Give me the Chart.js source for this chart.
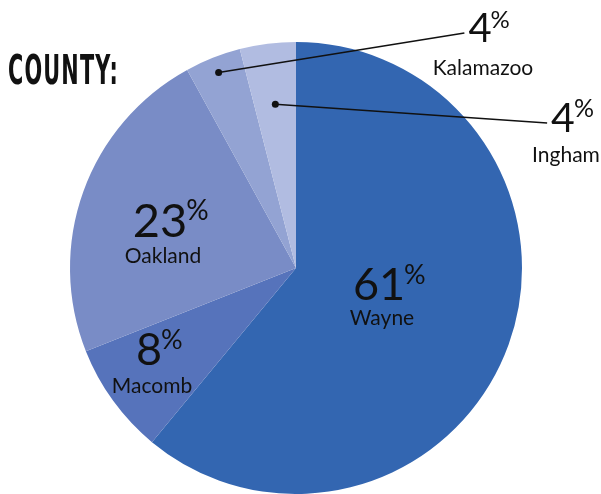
<!DOCTYPE html>
<html>
<head>
<meta charset="utf-8">
<script src="https://cdn.jsdelivr.net/npm/chart.js@4.4.1/dist/chart.umd.min.js"></script>
<style>
  html, body { margin: 0; padding: 0; background: #fff; }
  #wrap { position: relative; width: 601px; height: 494px; }
  #heading {
    position: absolute; left: 8px; top: 47px;
    font: bold 40px "DejaVu Sans Condensed", "Liberation Sans Narrow", sans-serif;
    color: #111; letter-spacing: 2px;
    transform-origin: 0 0; white-space: nowrap;
  }
</style>
</head>
<body>
<div id="wrap">
  <canvas id="countyChart" width="601" height="494"></canvas>
  <div id="heading">COUNTY:</div>
</div>
<script>
const counties = ['Wayne', 'Macomb', 'Oakland', 'Kalamazoo', 'Ingham'];
const shares = [61, 8, 23, 4, 4];
const sliceColors = ['#3366b1', '#5673bb', '#798cc6', '#93a3d3', '#b1bce1'];

// label placement, offsets from the pie centre: [dx, dy of number baseline, gap to name, number size]
const labelSpots = [[86, 32, 25, 45], [-144, 97, 28, 45], [-133, -31, 26, 47], [187, -226, 33, 40], [270, -136, 30, 41]];
// small slices get a leader line starting at this fraction of the radius (0 = none)
const leaderStart = [0, 0, 0, 0.93, 0.73];

const faces = 'Lato, "Open Sans", sans-serif';

const sliceLabels = {
  id: 'sliceLabels',
  afterDatasetsDraw(chart) {
    const ctx = chart.ctx;
    const arcs = chart.getDatasetMeta(0).data;
    const total = shares.reduce((a, b) => a + b, 0);
    ctx.save();
    ctx.fillStyle = '#111';
    ctx.strokeStyle = '#111';
    arcs.forEach((arc, i) => {
      const cx = arc.x, cy = arc.y;
      const [dx, dy, gap, size] = labelSpots[i];
      const x = cx + dx, base = cy + dy;
      const num = String(Math.round(shares[i] / total * 100));

      ctx.font = '400 ' + size + 'px ' + faces;
      ctx.textAlign = 'center';
      ctx.textBaseline = 'alphabetic';
      const w = ctx.measureText(num).width;
      ctx.fillText(num, x - 3, base);
      ctx.font = '400 ' + Math.round(size * 0.6) + 'px ' + faces;
      ctx.textAlign = 'left';
      ctx.fillText('%', x - 3 + w / 2 - 1, base - size * 0.36);

      ctx.font = '21px ' + faces;
      ctx.textAlign = 'center';
      ctx.fillText(counties[i], x, base + gap);

      if (leaderStart[i]) {
        const mid = (arc.startAngle + arc.endAngle) / 2;
        const r = arc.outerRadius * leaderStart[i];
        const px = cx + Math.cos(mid) * r, py = cy + Math.sin(mid) * r;
        const ex = x - 3 - w / 2 - 4, ey = base - 9;
        ctx.lineWidth = 1.5;
        ctx.beginPath();
        ctx.moveTo(px, py);
        ctx.lineTo(ex, ey);
        ctx.stroke();
        ctx.beginPath();
        ctx.arc(px, py, 3.5, 0, Math.PI * 2);
        ctx.fill();
      }
    });
    ctx.restore();
  }
};

new Chart(document.getElementById('countyChart'), {
  type: 'pie',
  data: {
    labels: counties,
    datasets: [{
      data: shares,
      backgroundColor: sliceColors,
      borderWidth: 0
    }]
  },
  options: {
    responsive: false,
    animation: false,
    layout: { padding: { left: 70, right: 79, top: 42, bottom: 0 } },
    plugins: {
      legend: { display: false },
      tooltip: { enabled: false }
    }
  },
  plugins: [sliceLabels]
});

// squeeze the heading into its condensed width
const heading = document.getElementById('heading');
heading.style.transform = 'scaleX(' + (111 / heading.offsetWidth) + ')';
</script>
</body>
</html>
